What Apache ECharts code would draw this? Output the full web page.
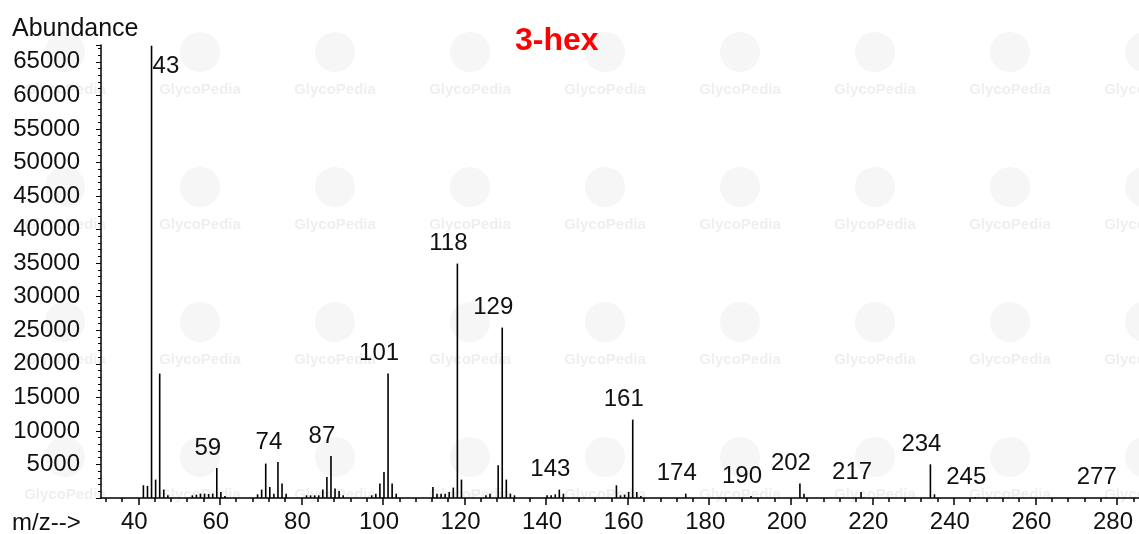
<!DOCTYPE html>
<html>
<head>
<meta charset="utf-8">
<script src="https://cdn.jsdelivr.net/npm/echarts@6/dist/echarts.min.js"></script>
<style>
  html, body { margin: 0; padding: 0; background: #fff; }
  #chart { width: 1139px; height: 534px; }
</style>
</head>
<body>
<div id="chart"></div>
<script>
// spectrum peaks (m/z, abundance)
var mz = [41, 42, 43, 44, 45, 46, 47,
  53, 54, 55, 56, 57, 58, 59, 60, 61,
  69, 70, 71, 72, 73, 74, 75, 76,
  81, 82, 83, 84, 85, 86, 87, 88, 89, 90,
  97, 98, 99, 100, 101, 102, 103,
  112, 113, 114, 115, 116, 117, 118, 119,
  125, 126, 128, 129, 130, 131, 132,
  140, 141, 142, 143, 144,
  157, 158, 159, 160, 161, 162, 163,
  174, 190, 202, 203, 217, 234, 235, 245, 277]
var abundance = [1900, 1800, 67400, 2740, 18540, 1250, 400,
  400, 500, 650, 650, 600, 650, 4470, 900, 300,
  550, 1250, 5130, 1640, 650, 5370, 2150, 650,
  400, 400, 400, 400, 1250, 3130, 6260, 1400, 1040, 400,
  400, 650, 2150, 3870, 18540, 2150, 650,
  1640, 650, 650, 650, 900, 1550, 34930, 2740,
  400, 650, 4870, 25390, 2740, 650, 400,
  400, 400, 550, 1250, 650,
  1890, 400, 500, 900, 11680, 900, 300,
  650, 300, 2150, 650, 900, 5020, 550, 150, 100]
var labelMz = [43, 59, 74, 87, 101, 118, 129, 143, 161, 174, 190, 202, 217, 234, 245, 277]
var xLabels = [40, 60, 80, 100, 120, 140, 160, 180, 200, 220, 240, 260, 280]
var xMinorTicks = []
for (var t = 32; t <= 284; t += 4) xMinorTicks.push(t)

var font = 'Liberation Sans, Arial, sans-serif'
var xMin = 30.85, xMax = 285.4, yMax = 67500

var peakData = mz.map(function (m, i) { return [m, abundance[i]] })
var labelData = labelMz.map(function (m) { return [m, abundance[mz.indexOf(m)]] })

// faint background watermark
var watermark = []
for (var r = 0; r < 4; r++) {
  for (var c = 0; c < 9; c++) {
    watermark.push({
      type: 'text', x: 65 + c * 135, y: 90 + r * 135, z: -10, silent: true,
      style: { text: 'GlycoPedia', fontSize: 15, fontWeight: 'bold', fontFamily: font,
        fill: '#efefef', align: 'center', verticalAlign: 'middle' }
    })
    watermark.push({
      type: 'circle', shape: { cx: 65 + c * 135, cy: 90 + r * 135 - 38, r: 20 }, z: -10, silent: true,
      style: { fill: '#f6f6f6' }
    })
  }
}

var chart = echarts.init(document.getElementById('chart'))
var option = {
  animation: false,
  backgroundColor: '#fff',
  title: {
    text: '3-hex',
    left: 510, top: 20,
    textStyle: { color: '#ff0000', fontSize: 32, fontWeight: 'bold', fontFamily: font }
  },
  graphic: watermark.concat([
    { type: 'text', left: 12, top: 17, style: { text: 'Abundance', fontSize: 25, fontFamily: font, fill: '#111' } },
    { type: 'text', left: 12, top: 511, style: { text: 'm/z-->', fontSize: 24, fontFamily: font, fill: '#111' } }
  ]),
  grid: { left: 101, right: 0, top: 45, bottom: 36 },
  xAxis: [{
    type: 'value', min: xMin, max: xMax,
    axisLine: { lineStyle: { color: '#000', width: 1.5 } },
    axisTick: { customValues: xLabels, length: 7, lineStyle: { color: '#000', width: 1.5 } },
    axisLabel: { customValues: xLabels, fontSize: 24, fontFamily: font, color: '#111', margin: 12,
      padding: [0, 8, 0, 0] },
    splitLine: { show: false }
  }, {
    type: 'value', min: xMin, max: xMax, position: 'bottom',
    axisLine: { show: false },
    axisTick: { customValues: xMinorTicks, length: 4, lineStyle: { color: '#000', width: 1.5 } },
    axisLabel: { show: false },
    splitLine: { show: false }
  }],
  yAxis: {
    type: 'value', min: 0, max: yMax, interval: 5000,
    axisLine: { show: true, lineStyle: { color: '#000', width: 1.5 } },
    axisTick: { show: true, length: 5, lineStyle: { color: '#000' } },
    minorTick: { show: true, splitNumber: 5, length: 3, lineStyle: { color: '#000' } },
    axisLabel: {
      fontSize: 24, fontFamily: font, color: '#111', margin: 21, padding: [6, 0, 0, 0],
      formatter: function (v) { return v === 0 ? '' : String(v) }
    },
    splitLine: { show: false }
  },
  series: [{
    type: 'custom',
    xAxisIndex: 0,
    data: peakData,
    renderItem: function (params, api) {
      var base = api.coord([api.value(0), 0])
      var top = api.coord([api.value(0), api.value(1)])
      return {
        type: 'line',
        shape: { x1: base[0] + 1, y1: base[1], x2: top[0] + 1, y2: top[1] },
        style: { stroke: '#000', lineWidth: 1.6 }
      }
    }
  }, {
    type: 'custom',
    xAxisIndex: 0,
    data: labelData,
    renderItem: function (params, api) {
      var top = api.coord([api.value(0), api.value(1)])
      var atTop = api.value(1) > yMax * 0.95
      return {
        type: 'text',
        x: atTop ? top[0] + 2 : top[0] - 8,
        y: atTop ? top[1] + 9 : top[1] - 8,
        style: {
          text: String(api.value(0)),
          fontSize: 24, fontFamily: font, fill: '#111',
          align: atTop ? 'left' : 'center',
          verticalAlign: atTop ? 'top' : 'bottom'
        }
      }
    }
  }]
}
chart.setOption(option)
</script>
</body>
</html>
